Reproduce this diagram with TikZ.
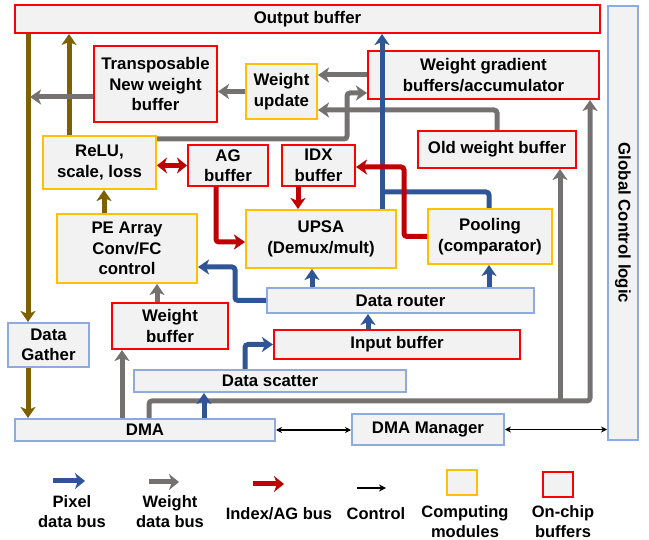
\documentclass[tikz,border=0pt]{standalone}
\usepackage{fontspec}
\setmainfont{Liberation Sans}
\usetikzlibrary{arrows.meta}
\definecolor{boxgray}{HTML}{F2F2F2}
\definecolor{bufred}{HTML}{FF0000}
\definecolor{compyellow}{HTML}{FFC000}
\definecolor{modblue}{HTML}{8FAADC}
\definecolor{pixelblue}{HTML}{2F5597}
\definecolor{weightgray}{HTML}{767171}
\definecolor{indexred}{HTML}{C00000}
\definecolor{gatherbrown}{HTML}{7F6000}
\begin{document}
\begin{tikzpicture}[x=1pt, y=-1pt,
   box/.style={draw, fill=boxgray, line width=2pt, inner sep=0pt, align=center,
      font=\bfseries\fontsize{16.8}{20.5}\selectfont},
   buf/.style={box, draw=bufred},
   comp/.style={box, draw=compyellow},
   mod/.style={box, draw=modblue},
   bus/.style={line width=5pt, rounded corners=3pt, -{Stealth[length=11pt, width=15pt, inset=3pt]}},
   ctrl/.style={line width=1.8pt, {Stealth[length=6pt, width=6pt]}-{Stealth[length=6pt, width=6pt]}},
   legtext/.style={align=center, font=\bfseries\fontsize{16.5}{20}\selectfont}]
   \useasboundingbox (0, 0) rectangle (649, 540);
   \node[buf, minimum width=585pt, minimum height=28pt] (outbuf) at (307.5, 19) {Output buffer};
   \node[mod, minimum width=30pt, minimum height=434pt] (gcl) at (623, 223) {};
   \node[rotate=-90, font=\bfseries\fontsize{16.8}{20.5}\selectfont] (gcltext) at (gcl.center) {Global Control logic};
   \node[buf, minimum width=123pt, minimum height=76pt] (tnwb) at (155.5, 84) {Transposable\\New weight\\buffer};
   \node[comp, minimum width=71pt, minimum height=55pt] (wupd) at (281.5, 91.5) {Weight\\update};
   \node[buf, minimum width=231pt, minimum height=48pt] (wgrad) at (483.5, 75) {Weight gradient\\buffers/accumulator};
   \node[buf, minimum width=158pt, minimum height=37pt] (oldw) at (497, 149.5) {Old weight buffer};
   \node[comp, minimum width=113pt, minimum height=53pt] (relu) at (99.5, 162.5) {ReLU,\\scale, loss};
   \node[buf, minimum width=80pt, minimum height=41pt] (agbuf) at (228, 165.5) {AG\\buffer};
   \node[buf, minimum width=73pt, minimum height=41pt] (idx) at (318.5, 165.5) {IDX\\buffer};
   \node[comp, minimum width=150pt, minimum height=58pt] (upsa) at (321, 239) {UPSA\\(Demux/mult)};
   \node[comp, minimum width=124pt, minimum height=55pt] (pool) at (490, 236.5) {Pooling\\(comparator)};
   \node[comp, minimum width=140pt, minimum height=69pt] (pe) at (127, 248.5) {PE Array\\Conv/FC\\control};
   \node[mod, minimum width=267pt, minimum height=25pt] (router) at (400.5, 300.5) {Data router};
   \node[buf, minimum width=116pt, minimum height=46pt] (wbuf) at (170, 326) {Weight\\buffer};
   \node[mod, minimum width=81pt, minimum height=44pt] (gather) at (48.5, 345) {Data\\Gather};
   \node[buf, minimum width=246pt, minimum height=29pt] (inbuf) at (397, 344.5) {Input buffer};
   \node[mod, minimum width=272pt, minimum height=22pt] (scatter) at (270, 381) {Data scatter};
   \node[mod, minimum width=260pt, minimum height=22pt] (dma) at (145, 430) {DMA};
   \node[mod, minimum width=152pt, minimum height=31pt] (dmam) at (428, 429.5) {DMA Manager};

   \draw[bus, gatherbrown] (outbuf.south -| 28,0) -- (gather.north -| 28,0);
   \draw[bus, gatherbrown] (gather.south -| 28,0) -- (dma.north -| 28,0);
   \draw[bus, gatherbrown] (relu.north -| 69,0) -- (outbuf.south -| 69,0);
   \draw[bus, gatherbrown] (pe.north -| 104,0) -- (relu.south -| 104,0);

   \coordinate (tnwbout) at (30, 97);
   \coordinate (wsplit) at (560, 401);
   \coordinate (pooljoin) at (382, 192);
   \draw[bus, weightgray] (tnwb.west |- tnwbout) -- (tnwbout);
   \draw[bus, weightgray] (wupd.west) -- (tnwb.east |- wupd.west);
   \draw[bus, weightgray] (wgrad.west) -- (wupd.east |- wgrad.west);
   \draw[bus, weightgray] (relu.east |- 0,139) -- (347, 139) -- (347, 93) -- (wgrad.west |- 0,93);
   \draw[bus, weightgray] (oldw.north -| 497,0) -- (497, 110) -- (wupd.east |- 0,110);
   \draw[bus, weightgray] (dma.north -| 149,0) -- (149, 401) -- (590, 401) -- (wgrad.south -| 590,0);
   \draw[bus, weightgray] (wsplit) -- (oldw.south -| wsplit);
   \draw[bus, weightgray] (dma.north -| 122,0) -- (wbuf.south -| 122,0);
   \draw[bus, weightgray] (wbuf.north -| 157,0) -- (pe.south -| 157,0);

   \draw[bus, pixelblue] (dma.north -| 204,0) -- (scatter.south -| 204,0);
   \draw[bus, pixelblue] (scatter.north -| 245,0) |- (inbuf.west);
   \draw[bus, pixelblue] (inbuf.north -| 368,0) -- (router.south -| 368,0);
   \draw[bus, pixelblue] (router.north -| 312,0) -- (upsa.south -| 312,0);
   \draw[bus, pixelblue] (router.north -| 489,0) -- (pool.south -| 489,0);
   \draw[bus, pixelblue] (router.west) -- (235, 300.5) -- (235, 267) -- (pe.east |- 0,267);
   \draw[bus, pixelblue] (upsa.north -| pooljoin) -- (outbuf.south -| pooljoin);
   \draw[bus, pixelblue, -] (pool.north -| 489,0) -- (489, 192) -- (pooljoin);

   \draw[bus, indexred, {Stealth[length=10pt, width=16pt, inset=3pt]}-{Stealth[length=10pt, width=16pt, inset=3pt]}] (relu.east |- agbuf.west) -- (agbuf.west);
   \draw[bus, indexred] (agbuf.south -| 216,0) |- (upsa.west |- 0,242);
   \draw[bus, indexred] (idx.south -| 298,0) -- (upsa.north -| 298,0);
   \draw[bus, indexred] (pool.west) -- (404, 236.5) -- (404, 167) -- (idx.east |- 0,167);

   \draw[ctrl] (dma.east) -- (dmam.west |- dma.east);
   \draw[ctrl] (dmam.east) -- (gcl.west |- dmam.east);

   \foreach \nm/\col/\xa/\xb/\yy in {pix/pixelblue/53/85/481, wgt/weightgray/149/179/482, idxl/indexred/253/284/484} {
      \coordinate (\nm0) at (\xa, \yy);
      \coordinate (\nm1) at (\xb, \yy);
      \draw[\col, line width=5pt, -{Stealth[length=10pt, width=16pt, inset=3pt]}] (\nm0) -- (\nm1);
   }
   \coordinate (ctl0) at (357, 488);
   \coordinate (ctl1) at (386, 488);
   \draw[line width=1.8pt, -{Stealth[length=7pt, width=7pt]}] (ctl0) -- (ctl1);
   \node[box, draw=compyellow, minimum width=30pt, minimum height=25pt] (legcomp) at (461.5, 482.5) {};
   \node[box, draw=bufred, minimum width=30pt, minimum height=25pt] (legbuf) at (557.5, 484.5) {};
   \node[legtext] (legpix) at (72, 512) {Pixel\\data bus};
   \node[legtext] (legwgt) at (170, 512) {Weight\\data bus};
   \node[legtext] (legidx) at (279, 514) {Index/AG bus};
   \node[legtext] (legctl) at (376, 514) {Control};
   \node[legtext] (legcmp) at (465, 522) {Computing\\modules};
   \node[legtext] (legbfr) at (563, 522) {On-chip\\buffers};
\end{tikzpicture}
\end{document}
